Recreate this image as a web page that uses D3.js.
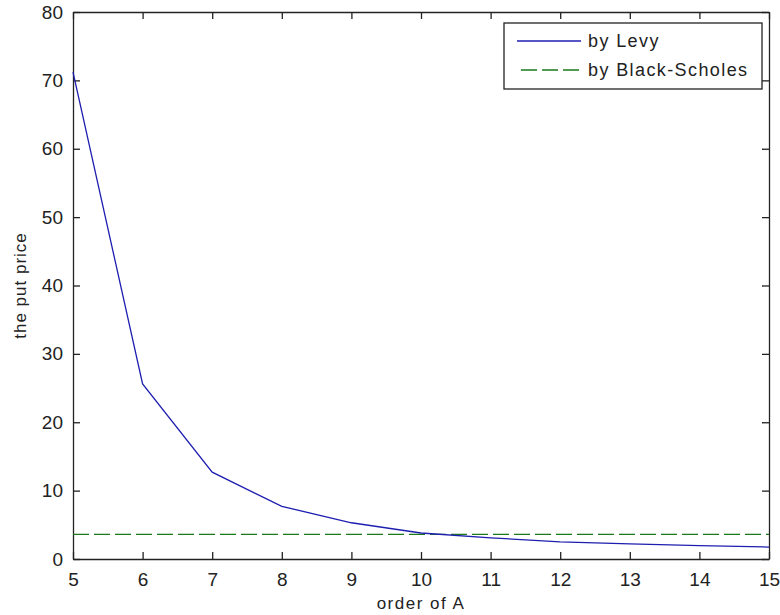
<!DOCTYPE html>
<html>
<head>
<meta charset="utf-8">
<script src="https://cdn.jsdelivr.net/npm/d3@7"></script>
<style>
  body { margin: 0; background: #fff; }
  svg text { font-family: "Liberation Sans", Arial, sans-serif; fill: #222; }
</style>
</head>
<body>
<svg width="780" height="615"></svg>
<script>
    let margin = { top: 12, right: 11, bottom: 56, left: 73 };
    let width = 780;
    let height = 615;

    // data
    let orders = [5, 6, 7, 8, 9, 10, 11, 12, 13, 14, 15];
    let levy = [71.2, 25.6, 12.7, 7.7, 5.3, 3.8, 3.1, 2.5, 2.2, 1.95, 1.75];
    let blackScholes = 3.6;
    let xTicks = [5, 6, 7, 8, 9, 10, 11, 12, 13, 14, 15];
    let yTicks = [0, 10, 20, 30, 40, 50, 60, 70, 80];
    let legendNames = ["by Levy", "by Black-Scholes"];

    let svg = d3.select("svg")

    let x = d3.scaleLinear()
        .domain([5, 15])
        .range([margin.left, width - margin.right])

    let y = d3.scaleLinear()
        .domain([0, 80])
        .range([height - margin.bottom, margin.top])

    let tickLen = 7

    // bottom axis, ticks pointing inward
    svg.append("g")
        .attr("transform", `translate(0, ${height - margin.bottom})`)
        .call(d3.axisBottom(x).tickValues(xTicks).tickSize(-tickLen).tickPadding(14).tickSizeOuter(0))
        .call(g => g.selectAll("text").style("font-size", "19px"))

    // top axis, ticks only
    svg.append("g")
        .attr("transform", `translate(0, ${margin.top})`)
        .call(d3.axisTop(x).tickValues(xTicks).tickSize(-tickLen).tickFormat("").tickSizeOuter(0))

    // left axis
    svg.append("g")
        .attr("transform", `translate(${margin.left}, 0)`)
        .call(d3.axisLeft(y).tickValues(yTicks).tickSize(-tickLen).tickPadding(10).tickSizeOuter(0))
        .call(g => g.selectAll("text").style("font-size", "19px"))

    // right axis, ticks only
    svg.append("g")
        .attr("transform", `translate(${width - margin.right}, 0)`)
        .call(d3.axisRight(y).tickValues(yTicks).tickSize(-tickLen).tickFormat("").tickSizeOuter(0))

    svg.selectAll(".domain").attr("stroke", "#222").attr("stroke-width", 1.3)
    svg.selectAll(".tick line").attr("stroke", "#222").attr("stroke-width", 1.3)

    // Black-Scholes reference line
    svg.append("line")
        .attr("x1", x(5))
        .attr("x2", x(15))
        .attr("y1", y(blackScholes))
        .attr("y2", y(blackScholes))
        .style("stroke", "#1a7a1a")
        .style("stroke-width", 1.3)
        .style("stroke-dasharray", "16,5")

    let line = d3.line()
        .x((d, i) => x(orders[i]))
        .y(d => y(d))

    svg.append("path")
        .attr("d", line(levy))
        .style("fill", "none")
        .style("stroke", "#1e1eb0")
        .style("stroke-width", 1.3)

    // axis labels
    svg.append("text")
        .attr("x", (margin.left + width - margin.right) / 2)
        .attr("y", 609)
        .attr("text-anchor", "middle")
        .style("font-size", "17px")
        .style("letter-spacing", "1.5px")
        .text("order of A")

    svg.append("text")
        .attr("transform", `translate(26, ${(margin.top + height - margin.bottom) / 2}) rotate(-90)`)
        .attr("text-anchor", "middle")
        .style("font-size", "17px")
        .style("letter-spacing", "1px")
        .text("the put price")

    // legend
    let legend = svg.append("g")
    legend.append("rect")
        .attr("x", 504)
        .attr("y", 23)
        .attr("width", 258)
        .attr("height", 66)
        .style("fill", "#fff")
        .style("stroke", "#222")
        .style("stroke-width", 1.3)

    let legendRows = [
        { name: legendNames[0], color: "#1e1eb0", dash: null, ly: 41 },
        { name: legendNames[1], color: "#1a7a1a", dash: "16,5", ly: 70 }
    ]
    legendRows.forEach(r => {
        legend.append("line")
            .attr("x1", r.dash ? 521 : 517)
            .attr("x2", 581)
            .attr("y1", r.ly)
            .attr("y2", r.ly)
            .style("stroke", r.color)
            .style("stroke-width", 1.3)
            .style("stroke-dasharray", r.dash)
        legend.append("text")
            .attr("x", 588)
            .attr("y", r.ly + 6)
            .style("font-size", "18px")
            .style("letter-spacing", "1.4px")
            .text(r.name)
    })
</script>
</body>
</html>
